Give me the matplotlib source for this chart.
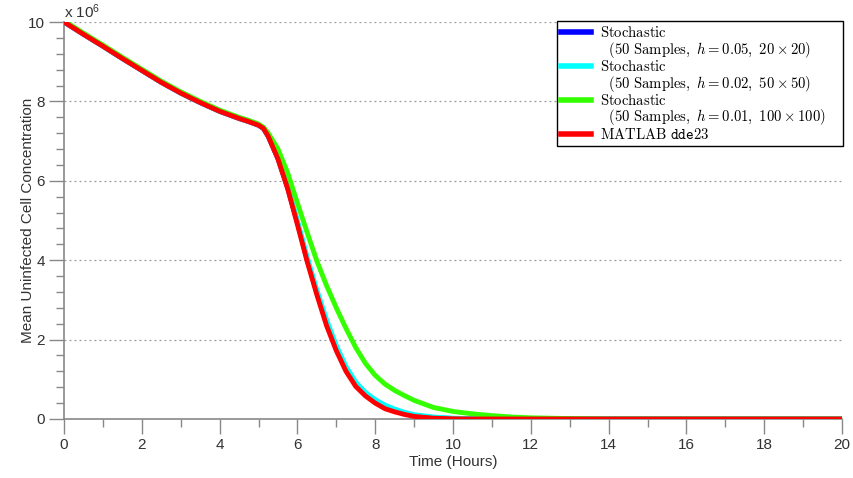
import matplotlib
matplotlib.use("Agg")
import matplotlib.pyplot as plt
from matplotlib.ticker import MultipleLocator
from matplotlib.lines import Line2D

plt.rcParams['font.family'] = ['Liberation Sans', 'DejaVu Sans']
plt.rcParams['mathtext.fontset'] = 'cm'

# time (hours)
t = [0, 0.5, 1, 1.5, 2, 2.5, 3, 3.5, 4, 4.5, 4.75, 5, 5.125, 5.25, 5.5, 5.75,
     6, 6.25, 6.5, 6.75, 7, 7.25, 7.5, 7.75, 8, 8.25, 8.5, 8.75, 9, 9.5, 10,
     10.5, 11, 11.5, 12, 13, 14, 20]

# mean uninfected cell concentration (x 10^6)
red = [10.0, 9.69, 9.39, 9.08, 8.78, 8.48, 8.21, 7.97, 7.75, 7.57, 7.49, 7.40,
       7.32, 7.12, 6.55, 5.80, 4.90, 3.97, 3.13, 2.35, 1.72, 1.20, 0.82, 0.58,
       0.40, 0.26, 0.18, 0.115, 0.065, 0.02, 0.005, 0.0, 0.0, 0.0, 0.0, 0.0,
       0.0, 0.0]
blue = [10.0, 9.69, 9.39, 9.08, 8.78, 8.48, 8.21, 7.97, 7.75, 7.57, 7.49, 7.40,
        7.32, 7.12, 6.56, 5.82, 4.95, 4.02, 3.19, 2.42, 1.78, 1.26, 0.87, 0.62,
        0.44, 0.30, 0.21, 0.14, 0.085, 0.035, 0.012, 0.003, 0.0, 0.0, 0.0, 0.0,
        0.0, 0.0]
cyan = [10.0, 9.69, 9.39, 9.08, 8.78, 8.48, 8.21, 7.97, 7.75, 7.57, 7.49, 7.40,
        7.32, 7.13, 6.58, 5.85, 5.00, 4.08, 3.25, 2.50, 1.85, 1.32, 0.93, 0.67,
        0.49, 0.35, 0.25, 0.17, 0.11, 0.05, 0.02, 0.008, 0.0, 0.0, 0.0, 0.0,
        0.0, 0.0]
green = [10.03, 9.72, 9.42, 9.11, 8.81, 8.51, 8.24, 8.00, 7.78, 7.60, 7.52,
         7.43, 7.35, 7.20, 6.80, 6.20, 5.44, 4.70, 3.98, 3.36, 2.80, 2.28, 1.80,
         1.40, 1.10, 0.88, 0.72, 0.59, 0.47, 0.29, 0.19, 0.13, 0.085, 0.05,
         0.03, 0.01, 0.0, 0.0]

labels = [r'$\mathrm{Stochastic}$',
          r'$\ \ (50\ \mathrm{Samples},\ h = 0.05,\ 20\times 20)$',
          r'$\mathrm{Stochastic}$',
          r'$\ \ (50\ \mathrm{Samples},\ h = 0.02,\ 50\times 50)$',
          r'$\mathrm{Stochastic}$',
          r'$\ \ (50\ \mathrm{Samples},\ h = 0.01,\ 100\times 100)$',
          r'$\mathrm{MATLAB}\ \mathtt{dde23}$']

W, H = 854, 478
fig = plt.figure(figsize=(W / 100, H / 100), dpi=100)
ax = fig.add_axes([64 / W, 1 - 419 / H, (842 - 64) / W, (419 - 22) / H])

lw = 3.5
lb, = ax.plot(t, blue, color='#0000ff', lw=lw)
lc, = ax.plot(t, cyan, color='#00ffff', lw=lw)
lg, = ax.plot(t, green, color='#33ff00', lw=lw)
lr, = ax.plot(t, red, color='#ff0000', lw=lw)

ax.set_xlim(0, 20)
ax.set_ylim(0, 10)
ax.xaxis.set_major_locator(MultipleLocator(2))
ax.xaxis.set_minor_locator(MultipleLocator(1))
ax.yaxis.set_major_locator(MultipleLocator(2))
ax.yaxis.set_minor_locator(MultipleLocator(0.4))

for y in [2, 4, 6, 8, 10]:
    ax.axhline(y, color='#999999', lw=0.9, ls=(0, (1.5, 2.5)), zorder=0)

for s in ['top', 'right']:
    ax.spines[s].set_visible(False)
for s in ['left', 'bottom']:
    ax.spines[s].set_color('#888888')
    ax.spines[s].set_linewidth(1.2)
    ax.spines[s].set_zorder(1)

ax.tick_params(which='major', direction='out', length=10.5, width=1,
               color='#888888', labelsize=11, labelcolor='#333333', pad=3)
ax.tick_params(which='minor', direction='out', length=5.5, width=1,
               color='#888888')

ax.set_xlabel('Time (Hours)', fontsize=11, color='#333333', labelpad=2)
ax.set_ylabel('Mean Uninfected Cell Concentration', fontsize=11,
              color='#333333')
ax.yaxis.set_label_coords((35 - 64) / 778, 0.5)

fig.text(64 / W, 1 - 18 / H, r'x $\mathdefault{10^{6}}$', fontsize=11,
         color='#333333', va='baseline', ha='left')

blank = Line2D([], [], color='none')
handles = [lb, blank, lc, blank, lg, blank, lr]
leg = ax.legend(handles, labels, loc='upper left', mode='expand',
                bbox_to_anchor=(557 / W, 1 - 149 / H, 286 / W, 128 / H),
                bbox_transform=fig.transFigure, borderaxespad=0,
                fontsize=10.6, frameon=True, fancybox=False, framealpha=1,
                edgecolor='black', handlelength=2.0, handletextpad=0.6,
                labelspacing=-0.04, borderpad=0.3, handleheight=0.7)
leg.get_frame().set_linewidth(1.0)
for h in leg.legend_handles:
    h.set_linewidth(4)

fig.savefig('out.png', dpi=100)
